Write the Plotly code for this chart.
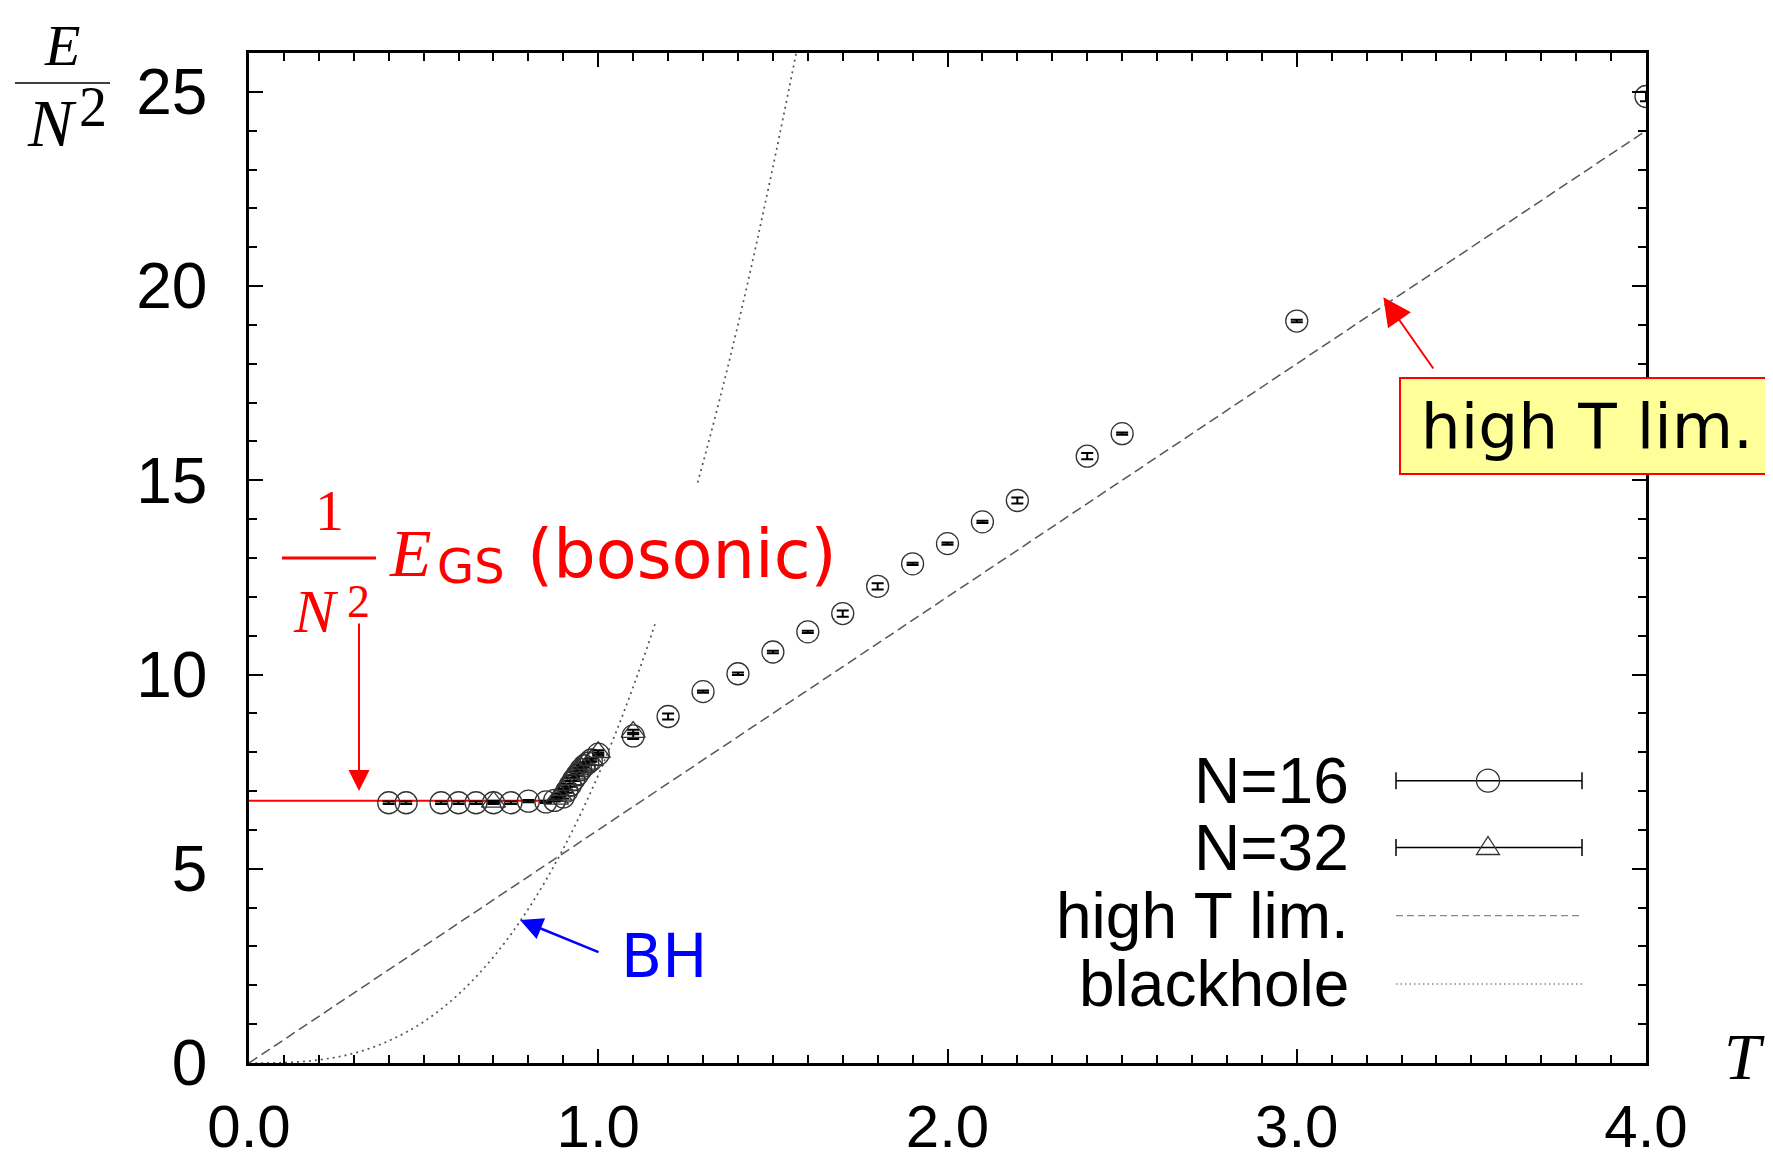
import plotly.graph_objects as go

# ---------------- data ----------------
N16_T = [0.40, 0.45, 0.55, 0.60, 0.65, 0.70, 0.75, 0.80, 0.85, 0.875, 0.90, 0.91, 0.92,
         0.93, 0.94, 0.95, 0.96, 0.97, 0.98, 1.00, 1.10, 1.20, 1.30, 1.40, 1.50, 1.60,
         1.70, 1.80, 1.90, 2.00, 2.10, 2.20, 2.40, 2.50, 3.00, 4.00]
N16_E = [6.70, 6.70, 6.70, 6.70, 6.70, 6.70, 6.70, 6.74, 6.72, 6.76, 6.85, 7.00, 7.15,
         7.30, 7.42, 7.55, 7.65, 7.72, 7.80, 7.95, 8.42, 8.92, 9.56, 10.02, 10.58, 11.10,
         11.57, 12.27, 12.85, 13.37, 13.93, 14.48, 15.62, 16.20, 19.10, 24.88]
N16_ERR = [0.03, 0.03, 0.03, 0.03, 0.03, 0.03, 0.03, 0.03, 0.03, 0.03, 0.04, 0.04, 0.04,
           0.04, 0.04, 0.04, 0.04, 0.04, 0.04, 0.04, 0.08, 0.08, 0.03, 0.03, 0.03, 0.03,
           0.08, 0.08, 0.03, 0.03, 0.03, 0.08, 0.08, 0.03, 0.03, 0.12]

N32_T = [0.70, 0.88, 0.89, 0.90, 0.91, 0.92, 0.93, 0.94, 0.95, 0.96, 0.98, 1.00, 1.10]
N32_E = [6.72, 6.80, 6.90, 7.02, 7.15, 7.30, 7.45, 7.55, 7.62, 7.70, 7.80, 8.00, 8.52]
N32_ERR = [0.03, 0.04, 0.04, 0.04, 0.04, 0.04, 0.04, 0.04, 0.04, 0.04, 0.04, 0.05, 0.06]

HIGHT_T = [0.0, 4.0]
HIGHT_E = [0.0, 24.0]

BH_T = [0.0, 0.1, 0.2, 0.3, 0.4, 0.5, 0.6, 0.7, 0.8, 0.9, 1.0, 1.1, 1.2, 1.3, 1.4, 1.5, 1.6]
BH_E = [0.0, 0.01, 0.08, 0.25, 0.57, 1.06, 1.77, 2.73, 3.97, 5.52, 7.41, 9.68, 12.35,
        15.45, 19.0, 23.06, 27.5]

EGS_T = [0.0, 0.9]
EGS_E = [6.75, 6.75]

X_TICKS = [0, 1, 2, 3, 4]
X_TICK_LABELS = ["0.0", "1.0", "2.0", "3.0", "4.0"]
Y_TICKS = [0, 5, 10, 15, 20, 25]
Y_TICK_LABELS = ["0", "5", "10", "15", "20", "25"]

LEGEND_LABELS = ["N=16", "N=32", "high T lim.", "blackhole"]

# ---------------- layout geometry ----------------
OFF = 8                      # page body margin around the plot div
W, H = 1773 - OFF, 1161 - OFF
L, R, T, B = 249 - OFF, 127, 53 - OFF, 98
PW, PH = W - L - R, H - T - B

SERIF = "Liberation Serif"
SANS = "Liberation Sans"
DJV = "DejaVu Sans"


def px(x):   # page pixel -> paper fraction
    return (x - OFF - L) / PW


def py(y):
    return (OFF + H - B - y) / PH


fig = go.Figure()

fig.add_trace(go.Scatter(x=HIGHT_T, y=HIGHT_E, mode="lines",
                         line=dict(color="#555555", width=1.5, dash="10px,5px"),
                         showlegend=False, hoverinfo="skip"))
fig.add_trace(go.Scatter(x=BH_T, y=BH_E, mode="lines", line_shape="spline",
                         line=dict(color="#555555", width=1.7, dash="2px,4px"),
                         showlegend=False, hoverinfo="skip"))
fig.add_trace(go.Scatter(x=EGS_T, y=EGS_E, mode="lines",
                         line=dict(color="red", width=2),
                         showlegend=False, hoverinfo="skip"))
fig.add_trace(go.Scatter(x=N16_T, y=N16_E, mode="markers",
                         marker=dict(symbol="circle-open", size=22, color="#333333",
                                     line=dict(width=1.3, color="#333333")),
                         error_y=dict(type="data", array=N16_ERR, visible=True,
                                      color="black", thickness=2, width=6),
                         showlegend=False))
fig.add_trace(go.Scatter(x=N32_T, y=N32_E, mode="markers",
                         marker=dict(symbol="triangle-up-open", size=21, color="#333333",
                                     line=dict(width=1.3, color="#333333")),
                         error_y=dict(type="data", array=N32_ERR, visible=True,
                                      color="black", thickness=2, width=6),
                         showlegend=False))

shapes = []
# white background of the red label (hides the dotted curve behind it)
shapes.append(dict(type="rect", xref="x", yref="y", x0=0.09, x1=1.5, y0=11.35, y1=14.93,
                   fillcolor="white", line=dict(width=0), layer="above"))
# fraction bars
shapes.append(dict(type="line", xref="paper", yref="paper", x0=px(282), x1=px(376),
                   y0=py(558), y1=py(558), line=dict(color="red", width=3)))
shapes.append(dict(type="line", xref="paper", yref="paper", x0=px(15), x1=px(110),
                   y0=py(83), y1=py(83), line=dict(color="black", width=1.6)))

# legend keys
rows = [780.7, 847.5, 915.7, 984.0]
lx0, lx1, lxc = 1396, 1582, 1488
for i, ry in enumerate(rows[:2]):
    shapes.append(dict(type="line", xref="paper", yref="paper", x0=px(lx0), x1=px(lx1),
                       y0=py(ry), y1=py(ry), line=dict(color="black", width=1.5)))
    for xx in (lx0, lx1):
        shapes.append(dict(type="line", xref="paper", yref="paper", x0=px(xx), x1=px(xx),
                           y0=py(ry - 8.5), y1=py(ry + 8.5), line=dict(color="black", width=1.5)))
shapes.append(dict(type="circle", xref="paper", yref="paper", xsizemode="pixel",
                   ysizemode="pixel", xanchor=px(lxc), yanchor=py(rows[0]),
                   x0=-11.5, x1=11.5, y0=-11.5, y1=11.5,
                   line=dict(color="#333333", width=1.3)))
shapes.append(dict(type="path", xref="paper", yref="paper", xsizemode="pixel",
                   ysizemode="pixel", xanchor=px(lxc), yanchor=py(rows[1]),
                   path="M -11.5,-7 L 11.5,-7 L 0,11 Z",
                   line=dict(color="#333333", width=1.3)))
shapes.append(dict(type="line", xref="paper", yref="paper", x0=px(lx0), x1=px(lx1),
                   y0=py(rows[2]), y1=py(rows[2]),
                   line=dict(color="#888888", width=1.3, dash="7px,4px")))
shapes.append(dict(type="line", xref="paper", yref="paper", x0=px(lx0), x1=px(lx1),
                   y0=py(rows[3]), y1=py(rows[3]),
                   line=dict(color="#888888", width=1.3, dash="1.5px,3px")))

ann = []


def txt(text, x, y, size, family, color="black", xanchor="center", yanchor="middle", **kw):
    d = dict(text=text, x=px(x), y=py(y), xref="paper", yref="paper", showarrow=False,
             xanchor=xanchor, yanchor=yanchor,
             font=dict(size=size, family=family, color=color))
    d.update(kw)
    ann.append(d)


# y-axis title E / N^2
txt("<i>E</i>", 61.5, 46, 58, SERIF)
txt("<i>N</i>", 52, 123.5, 68, SERIF)
txt("2", 93, 107, 56, SERIF)
# x-axis title
txt("<i>T</i>", 1744, 1056.5, 66, SERIF)

# red label 1/N^2 E_GS (bosonic)
txt("1", 329.5, 511, 58, SERIF, color="red")
txt("<i>N</i>", 316, 611, 62, SERIF, color="red")
txt("2", 358, 601, 46, SERIF, color="red")
txt("<i>E</i>", 410, 552.5, 68, SERIF, color="red")
txt("GS", 471, 565.5, 48, DJV, color="red")
txt("(bosonic)", 681.5, 554.5, 67, DJV, color="red")

# BH label
txt("BH", 664, 955.5, 60, DJV, color="blue")

# high T lim. box
ann.append(dict(text="high T lim.", x=px(1399.3), y=py(425.8), xref="paper", yref="paper",
                showarrow=False, xanchor="left", yanchor="middle", width=372, height=94,
                align="center", valign="middle", bgcolor="#ffff99", bordercolor="red",
                borderwidth=2, borderpad=0, font=dict(size=63, family=DJV, color="black")))

# legend labels
for lab, ry in zip(LEGEND_LABELS, rows):
    txt(lab, 1351, ry, 64, SANS, xanchor="right")

# arrows
ann.append(dict(x=3.248, y=19.71, ax=3.394, ay=17.84, xref="x", yref="y", axref="x",
                ayref="y", text="", showarrow=True, arrowhead=2, arrowsize=2.8,
                arrowwidth=2, arrowcolor="red"))
ann.append(dict(x=0.315, y=7.0, ax=0.315, ay=11.35, xref="x", yref="y", axref="x",
                ayref="y", text="", showarrow=True, arrowhead=2, arrowsize=2.1,
                arrowwidth=2, arrowcolor="red"))
ann.append(dict(x=0.776, y=3.68, ax=1.005, ay=2.84, xref="x", yref="y", axref="x",
                ayref="y", text="", showarrow=True, arrowhead=2, arrowsize=1.8,
                arrowwidth=2.5, arrowcolor="blue"))

axis_common = dict(showline=True, linecolor="black", linewidth=2.5, mirror="ticks",
                   ticks="inside", ticklen=14, tickwidth=2, tickcolor="black",
                   showgrid=False, zeroline=False, automargin=False)

fig.update_layout(
    width=W, height=H,
    margin=dict(l=L, r=R, t=T, b=B, pad=0),
    paper_bgcolor="white", plot_bgcolor="white",
    showlegend=False,
    shapes=shapes, annotations=ann,
    xaxis=dict(range=[0, 4], tickmode="array", tickvals=X_TICKS, ticktext=X_TICK_LABELS,
               minor=dict(dtick=0.1, ticks="inside", ticklen=8, tickwidth=1.5,
                          tickcolor="black", showgrid=False),
               tickfont=dict(size=60, family=SANS, color="black"),
               ticklabelstandoff=9, **axis_common),
    yaxis=dict(range=[0, 26], tickmode="array", tickvals=Y_TICKS, ticktext=Y_TICK_LABELS,
               minor=dict(dtick=1, ticks="inside", ticklen=8, tickwidth=1.5,
                          tickcolor="black", showgrid=False),
               tickfont=dict(size=64, family=SANS, color="black"),
               ticklabelstandoff=26, **axis_common),
)

fig.write_html("out.html")
